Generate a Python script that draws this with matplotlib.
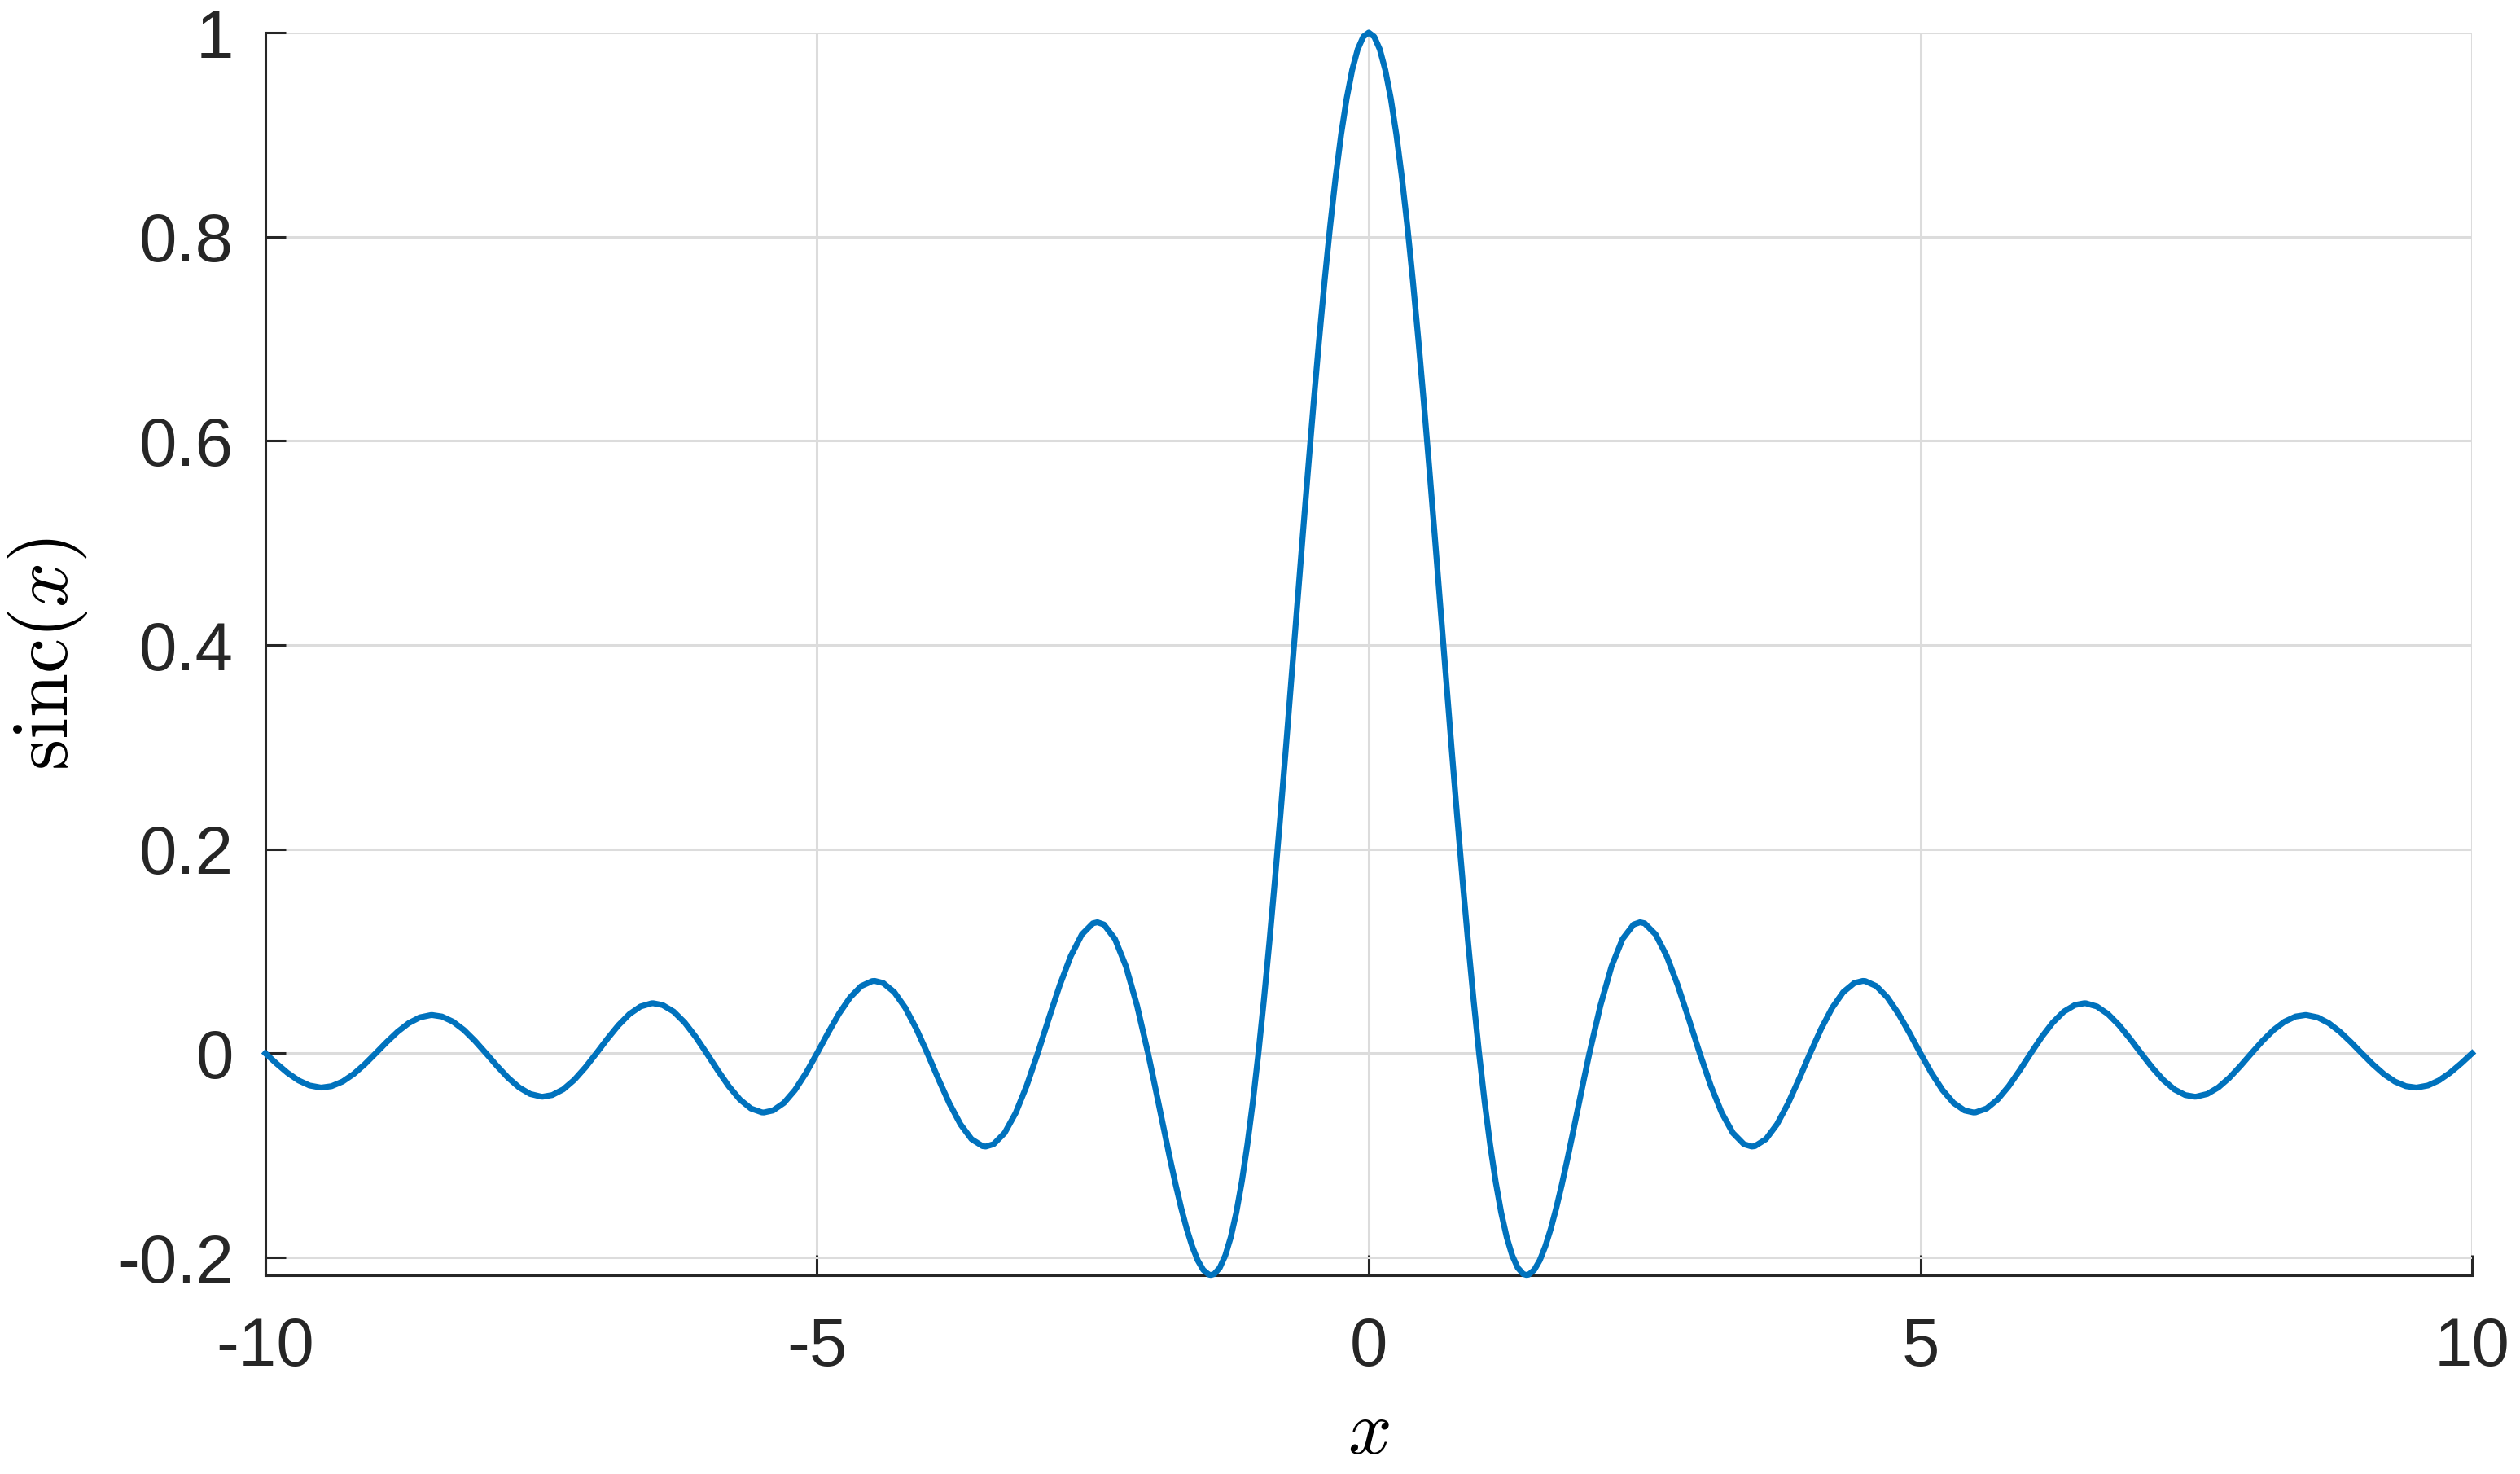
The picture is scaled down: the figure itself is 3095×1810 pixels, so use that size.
import matplotlib
matplotlib.use("Agg")
import matplotlib.pyplot as plt
from matplotlib.ticker import FormatStrFormatter

# sinc curve, x >= 0 side (curve is symmetric about x = 0)
x_half = [0.0, 0.05, 0.1, 0.15, 0.2, 0.25, 0.3, 0.35, 0.4, 0.45,
          0.5, 0.55, 0.6, 0.65, 0.7, 0.75, 0.8, 0.85, 0.9, 0.95,
          1.0, 1.05, 1.1, 1.15, 1.2, 1.25, 1.3, 1.35, 1.4, 1.4303, 1.45,
          1.5, 1.55, 1.6, 1.65, 1.7, 1.75, 1.8, 1.85, 1.9, 1.95,
          2.0, 2.1, 2.2, 2.3, 2.4, 2.459, 2.5, 2.6, 2.7, 2.8, 2.9,
          3.0, 3.1, 3.2, 3.3, 3.4, 3.4709, 3.5, 3.6, 3.7, 3.8, 3.9,
          4.0, 4.1, 4.2, 4.3, 4.4, 4.4774, 4.5, 4.6, 4.7, 4.8, 4.9,
          5.0, 5.1, 5.2, 5.3, 5.4, 5.4818, 5.5, 5.6, 5.7, 5.8, 5.9,
          6.0, 6.1, 6.2, 6.3, 6.4, 6.4844, 6.5, 6.6, 6.7, 6.8, 6.9,
          7.0, 7.1, 7.2, 7.3, 7.4, 7.4865, 7.5, 7.6, 7.7, 7.8, 7.9,
          8.0, 8.1, 8.2, 8.3, 8.4, 8.488, 8.5, 8.6, 8.7, 8.8, 8.9,
          9.0, 9.1, 9.2, 9.3, 9.4, 9.4893, 9.5, 9.6, 9.7, 9.8, 9.9,
          10.0]
y_half = [1.0, 0.99589, 0.98363, 0.96340, 0.93549, 0.90032, 0.85839, 0.81033, 0.75683, 0.69865,
          0.63662, 0.57162, 0.50455, 0.43633, 0.36788, 0.30011, 0.23387, 0.17001, 0.10929, 0.05242,
          0.0, -0.04742, -0.08942, -0.12566, -0.15592, -0.18006, -0.19809, -0.21009, -0.21624, -0.21723, -0.21682,
          -0.21221, -0.20283, -0.18921, -0.17189, -0.15148, -0.12862, -0.10394, -0.07811, -0.05177, -0.02554,
          0.0, 0.04684, 0.08504, 0.11197, 0.12614, 0.12837, 0.12732, 0.11644, 0.09538, 0.06682, 0.03392,
          0.0, -0.03173, -0.05847, -0.07804, -0.08904, -0.09133, -0.09095, -0.08409, -0.06960, -0.04924, -0.02522,
          0.0, 0.02399, 0.04455, 0.05989, 0.06880, 0.07091, 0.07074, 0.06581, 0.05479, 0.03898, 0.02007,
          0.0, -0.01929, -0.03598, -0.04859, -0.05606, -0.05797, -0.05787, -0.05406, -0.04518, -0.03226, -0.01667,
          0.0, 0.01613, 0.03018, 0.04088, 0.04730, 0.04903, 0.04897, 0.04587, 0.03844, 0.02751, 0.01426,
          0.0, -0.01385, -0.02599, -0.03528, -0.04091, -0.04251, -0.04244, -0.03983, -0.03344, -0.02399, -0.01245,
          0.0, 0.01214, 0.02282, 0.03103, 0.03604, 0.03749, 0.03745, 0.03520, 0.02960, 0.02126, 0.01105,
          0.0, -0.01081, -0.02034, -0.02769, -0.03221, -0.03353, -0.03351, -0.03153, -0.02655, -0.01909, -0.00994,
          0.0]

x_ticks = [-10, -5, 0, 5, 10]
y_ticks = [-0.2, 0, 0.2, 0.4, 0.6, 0.8, 1]


def main():
    plt.rcParams['font.family'] = ['Liberation Sans', 'DejaVu Sans']
    plt.rcParams['mathtext.fontset'] = 'cm'
    plt.rcParams['axes.unicode_minus'] = False

    x = [-v for v in reversed(x_half)] + x_half[1:]
    y = list(reversed(y_half)) + y_half[1:]

    fig = plt.figure(figsize=(15.475, 9.05), dpi=200)
    ax = fig.add_axes([0.1053, 0.1348, 0.9810 - 0.1053, 0.9779 - 0.1348])

    ax.plot(x, y, color='#0072BD', lw=2.6, solid_joinstyle='round',
            clip_on=False, zorder=3)

    ax.set_xlim(-10, 10)
    ax.set_ylim(-0.2175, 1)
    ax.set_xticks(x_ticks)
    ax.set_yticks(y_ticks)
    ax.yaxis.set_major_formatter(FormatStrFormatter('%g'))

    ax.grid(True, color='#dcdcdc', lw=1.1)
    ax.set_axisbelow(True)
    for side in ['top', 'right']:
        ax.spines[side].set_visible(False)
    for side in ['left', 'bottom']:
        ax.spines[side].set_color('#262626')
        ax.spines[side].set_linewidth(1.1)

    ax.tick_params(direction='in', length=9, width=1.1, color='#262626',
                   labelcolor='#262626', labelsize=30)
    ax.tick_params(axis='y', pad=14)
    ax.tick_params(axis='x', pad=18)

    ax.set_xlabel(r'$x$', fontsize=34, labelpad=8)
    ax.set_ylabel(r'$\mathrm{sinc}(x)$', fontsize=35, labelpad=12)

    fig.savefig('out.png', dpi=200)


if __name__ == '__main__':
    main()
